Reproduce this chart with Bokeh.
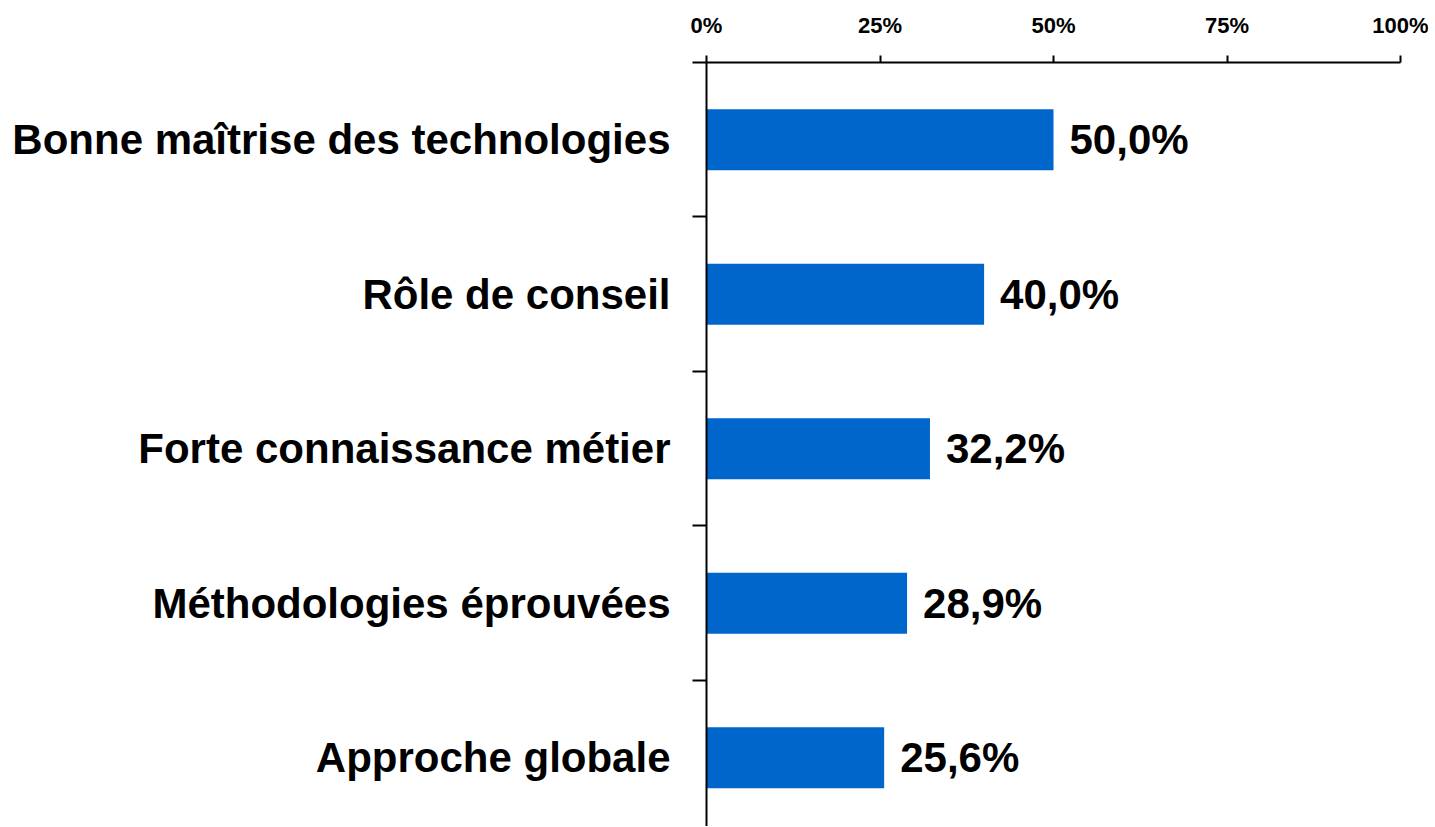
from bokeh.plotting import figure
from bokeh.models import Range1d, FixedTicker, ColumnDataSource
from bokeh.core.properties import value
from bokeh.embed import file_html
from bokeh.resources import INLINE

categories = ["Bonne maîtrise des technologies", "Rôle de conseil",
              "Forte connaissance métier", "Méthodologies éprouvées",
              "Approche globale"]
values = [50.0, 40.0, 32.2, 28.9, 25.6]
x_ticks = [0, 25, 50, 75, 100]
x_tick_labels = ["0%", "25%", "50%", "75%", "100%"]

FONT = "Liberation Sans"
positions = list(range(len(categories)))
labels = [f"{v:.1f}".replace(".", ",") + "%" for v in values]

src = ColumnDataSource(dict(y=positions, v=values, lab=labels))

p = figure(frame_width=694, frame_height=764,
           x_range=Range1d(0, 100), y_range=Range1d(4.445, -0.5),
           x_axis_location="above", output_backend="svg",
           toolbar_location=None, tools="")
p.min_border_left = 706
p.min_border_right = 28
p.min_border_top = 62
p.min_border_bottom = 0
p.outline_line_color = None
p.xgrid.visible = False
p.ygrid.visible = False
p.background_fill_color = "white"

p.hbar(y="y", left=0, right="v", height=0.395, source=src,
       fill_color="#0066CC", line_color=None)

p.text(x="v", y="y", text="lab", source=src, x_offset=16,
       text_baseline="middle", text_align="left",
       text_font=value(FONT), text_font_style="bold",
       text_font_size="42px", text_color="black")

xa = p.xaxis[0]
xa.ticker = FixedTicker(ticks=x_ticks, minor_ticks=[])
xa.major_label_overrides = {t: l for t, l in zip(x_ticks, x_tick_labels)}
xa.major_label_text_font = FONT
xa.major_label_text_font_style = "bold"
xa.major_label_text_font_size = "22px"
xa.major_label_text_color = "black"
xa.major_label_standoff = 18
xa.major_tick_out = 7
xa.major_tick_in = 0
xa.minor_tick_out = 0
xa.minor_tick_in = 0
xa.axis_line_width = 2
xa.major_tick_line_width = 2
xa.axis_line_color = "black"

ya = p.yaxis[0]
ya.ticker = FixedTicker(ticks=positions, minor_ticks=[-0.5, 0.5, 1.5, 2.5, 3.5])
ya.major_label_overrides = {i: c for i, c in zip(positions, categories)}
ya.major_label_text_font = FONT
ya.major_label_text_font_style = "bold"
ya.major_label_text_font_size = "42px"
ya.major_label_text_color = "black"
ya.major_label_standoff = 22
ya.major_tick_out = 0
ya.major_tick_in = 0
ya.minor_tick_out = 14
ya.minor_tick_in = 0
ya.minor_tick_line_width = 2
ya.minor_tick_line_color = "black"
ya.axis_line_width = 2
ya.axis_line_color = "black"

open("out.html", "w").write(file_html(p, INLINE))
